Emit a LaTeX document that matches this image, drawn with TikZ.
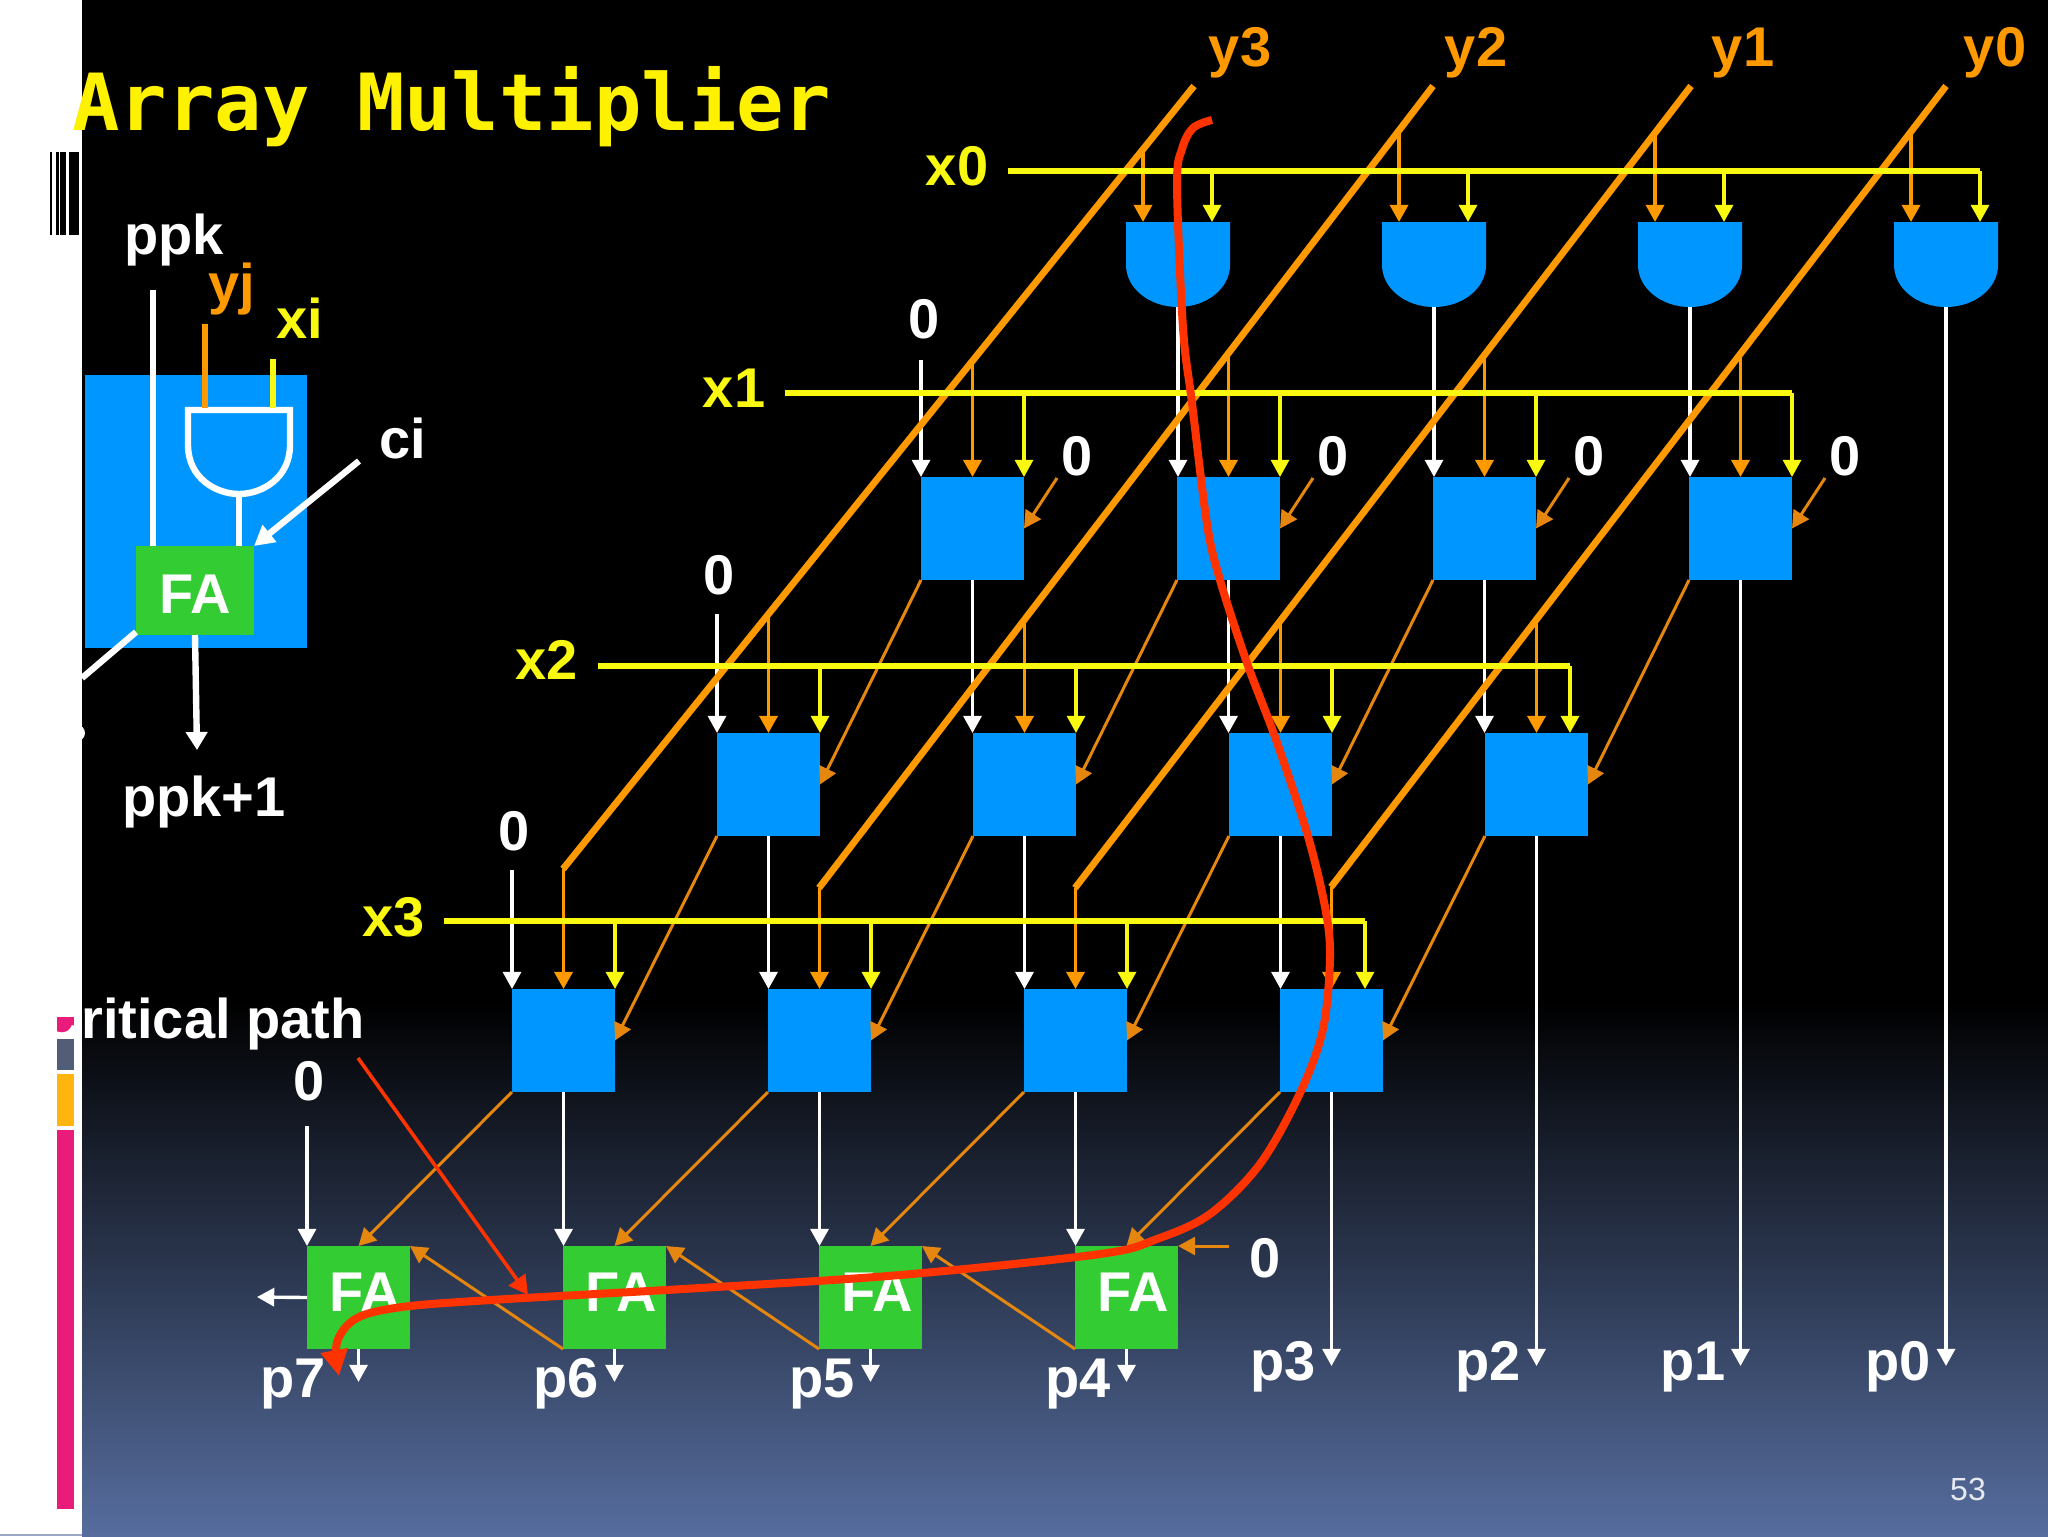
\documentclass[tikz,border=0pt]{standalone}
\usepackage{fontspec}
\setmainfont{Liberation Sans}
\newfontfamily\titlefont{DejaVu Sans Mono}
\usetikzlibrary{arrows.meta,calc}
\definecolor{gateblue}{HTML}{0096FF}
\definecolor{fagreen}{HTML}{33CC33}
\definecolor{wireorange}{HTML}{FF9900}
\definecolor{thinorange}{HTML}{E5860F}
\definecolor{wireyellow}{HTML}{F8F810}
\definecolor{pathred}{HTML}{FF3300}
\definecolor{bgbottom}{HTML}{566D9E}
\definecolor{barpink}{HTML}{E91C7C}
\definecolor{bargrey}{HTML}{525E78}
\definecolor{baramber}{HTML}{FFB50D}
\newcommand{\arrayfa}{\kern7pt\raisebox{5pt}{FA}}
\tikzset{
  lab/.style={anchor=base,inner sep=0pt,text=white,font=\fontsize{28}{30}\selectfont\bfseries},
  ylab/.style={lab,text=wireyellow},
  olab/.style={lab,text=wireorange},
  cell/.style={fill=gateblue,draw=none,minimum size=51.5pt,inner sep=0pt,outer sep=0pt},
  fabox/.style={fill=fagreen,draw=none,minimum size=51.5pt,inner sep=0pt,outer sep=0pt,text=white,font=\fontsize{28}{30}\selectfont\bfseries},
  whitearrow/.style={draw=white,line width=1.7pt,-{Triangle[length=8.6pt,width=9pt]}},
  yellowarrow/.style={draw=wireyellow,line width=1.7pt,-{Triangle[length=8.6pt,width=9pt]}},
  orangearrow/.style={draw=wireorange,line width=1.9pt,-{Triangle[length=8.6pt,width=9pt]}},
  thinarrow/.style={draw=thinorange,line width=1.5pt,-{Triangle[length=8.6pt,width=9pt]}},
  diagwire/.style={draw=wireorange,line width=3.4pt},
  yellowbus/.style={draw=wireyellow,line width=3pt},
  insetwire/.style={line width=3.2pt},
}
\newcommand{\gateshape}[1]{(#1-52,222) -- (#1+52,222) -- (#1+52,265) .. controls (#1+52,288) and (#1+29,307) .. (#1,307) .. controls (#1-29,307) and (#1-52,288) .. (#1-52,265) -- cycle}
\begin{document}
\begin{tikzpicture}[x=0.5pt,y=-0.5pt]
\useasboundingbox (0,0) rectangle (2048,1536);
% background
\fill[white] (0,0) rectangle (82,1536);
\fill[black] (82,0) rectangle (2048,1002);
\shade[top color=black,bottom color=bgbottom] (82,1000) rectangle (2048,1536);
\fill[bgbottom!60!white] (0,1534) rectangle (82,1536);
% left strip decoration
\fill[black] (49.5,152) rectangle (51.5,235);
\fill[black] (56,152) rectangle (58.5,235);
\fill[black] (60,152) rectangle (66,235);
\fill[black] (69,152) rectangle (79,235);
\fill[barpink] (57,1017) rectangle (74,1034);
\fill[bargrey] (57,1039) rectangle (74,1070);
\fill[baramber] (57,1074) rectangle (74,1126);
\fill[barpink] (57,1130) rectangle (74,1509);
\fill[white] (77,733) circle[radius=8];

% title
\node[anchor=base west,inner sep=0pt,text=yellow,font=\fontsize{39.4}{42}\selectfont\titlefont\bfseries] (title) at (72,130) {Array Multiplier};

% ---- inset cell
\fill[gateblue] (85,375) rectangle (307,648);
\coordinate (ppktop) at (153,290);
\coordinate (yjtop) at (205,324);
\coordinate (xitop) at (273,359);
\coordinate (citop) at (359,461);
\coordinate (coend) at (82,678);
\coordinate (ppkend) at (197,750);
\node[fabox,minimum width=59pt,minimum height=44.5pt] (insetfa) at (195,590.5) {\raisebox{0pt}[23pt][0pt]{FA}};
\coordinate (yjin) at (205,408);
\coordinate (xiin) at (273,408);
\coordinate (andout) at (239,497);
\draw[white,insetwire] (188,410) -- (290,410) -- (290,445) .. controls (290,478) and (262,494) .. (239,494) .. controls (216,494) and (188,478) .. (188,445) -- cycle;
\draw[white,insetwire] (ppktop) -- (ppktop |- insetfa.north);
\draw[wireorange,insetwire] (yjtop) -- (yjin);
\draw[wireyellow,insetwire] (xitop) -- (xiin);
\draw[white,insetwire] (andout) -- (andout |- insetfa.north);
\draw[white,insetwire,-{Triangle[length=10pt,width=10.5pt]}] (citop) -- (insetfa.north east);
\draw[white,insetwire] (insetfa.south west) ++(0,-3) -- (coend);
\draw[white,insetwire,-{Triangle[length=9pt,width=10.5pt]}] (insetfa.south) -- (ppkend);
\node[lab] (tppk) at (174,254) {ppk};
\node[olab] (tyj) at (232,303) {yj};
\node[ylab] (txi) at (300,338) {xi};
\node[lab] (tci) at (403,458) {ci};
\node[lab] (tppkn) at (204,816) {ppk+1};
\node[lab,anchor=base east] (tcrit) at (365,1038) {Critical path};

% ---- free ends for the array
\coordinate (d3a) at (1194,86); \coordinate (d3b) at (563,869);
\coordinate (d2a) at (1433,86); \coordinate (d2b) at (819,888);
\coordinate (d1a) at (1691,86); \coordinate (d1b) at (1075,888);
\coordinate (d0a) at (1946,86); \coordinate (d0b) at (1331,887);

% ---- nodes
\foreach \n/\x in {g0/1178,g1/1434,g2/1690,g3/1946}{
  \fill[gateblue] \gateshape{\x};
  \coordinate (\n) at (\x,307);
}
\foreach \n/\x in {a0/972.5,a1/1228.5,a2/1484.5,a3/1740.5}{
  \node[cell] (\n) at (\x,528.5) {};
}
\foreach \n/\x in {b0/768.5,b1/1024.5,b2/1280.5,b3/1536.5}{
  \node[cell] (\n) at (\x,784.5) {};
}
\foreach \n/\x in {c0/563.5,c1/819.5,c2/1075.5,c3/1331.5}{
  \node[cell] (\n) at (\x,1040.5) {};
}
\foreach \n/\x in {f0/358.5,f1/614.5,f2/870.5,f3/1126.5}{
  \node[fabox] (\n) at (\x,1297.5) {\arrayfa};
}

% ---- white verticals
\draw[whitearrow] (g0) -- (g0 |- a1.north);
\draw[whitearrow] (g1) -- (g1 |- a2.north);
\draw[whitearrow] (g2) -- (g2 |- a3.north);
\draw[whitearrow] (g3) -- (1946,1366);
\draw[whitearrow] (a0.south) -- (a0.south |- b1.north);
\draw[whitearrow] (a1.south) -- (a1.south |- b2.north);
\draw[whitearrow] (a2.south) -- (a2.south |- b3.north);
\draw[whitearrow] (a3.south) -- (1740.5,1366);
\draw[whitearrow] (b0.south) -- (b0.south |- c1.north);
\draw[whitearrow] (b1.south) -- (b1.south |- c2.north);
\draw[whitearrow] (b2.south) -- (b2.south |- c3.north);
\draw[whitearrow] (b3.south) -- (1536.5,1366);
\draw[whitearrow] (c0.south) -- (c0.south |- f1.north);
\draw[whitearrow] (c1.south) -- (c1.south |- f2.north);
\draw[whitearrow] (c2.south) -- (c2.south |- f3.north);
\draw[whitearrow] (c3.south) -- (1331.5,1366);
\draw[whitearrow] (921,360) -- (a0.north west);
\draw[whitearrow] (717,614) -- (b0.north west);
\draw[whitearrow] (512,870) -- (c0.north west);
\draw[whitearrow] (307,1126) -- (f0.north west);
\foreach \n in {f0,f1,f2,f3}{
  \draw[whitearrow] (\n.south) -- ++(0,33);
}
\draw[whitearrow] (f0.west) -- (257,1297);

% ---- thin orange carries and sums
\foreach \a/\b in {a0/b0,a1/b1,a2/b2,a3/b3,b0/c0,b1/c1,b2/c2,b3/c3}{
  \draw[thinarrow] (\a.south west) -- (\b.east);
}
\foreach \a/\b in {c0/f0,c1/f1,c2/f2,c3/f3}{
  \draw[thinarrow] (\a.south west) -- (\b.north);
}
\foreach \a/\b in {f1/f0,f2/f1,f3/f2}{
  \draw[thinarrow] (\a.south west) -- (\b.north east);
}
\draw[thinarrow] (1229,1246) -- (f3.north east);
\foreach \n in {a0,a1,a2,a3}{
  \draw[thinarrow] ($(\n.north east)+(33,1)$) -- (\n.east);
}

% ---- orange arrows from the diagonals
\foreach \x/\y/\t in {1143/150/222,1399/132/222,1655/133/222,1911/132/222}{
  \draw[orangearrow] (\x,\y) -- (\x,\t);
}
\foreach \n/\y in {a0/361,a1/352,a2/354,a3/353,b0/615,b1/619,b2/620,b3/618,c0/869,c1/888,c2/888,c3/887}{
  \draw[orangearrow] (\n.north |- 0,\y) -- (\n.north);
}
% ---- diagonals
\draw[diagwire] (d3a) -- (d3b);
\draw[diagwire] (d2a) -- (d2b);
\draw[diagwire] (d1a) -- (d1b);
\draw[diagwire] (d0a) -- (d0b);

% ---- yellow
\foreach \x in {1212,1468,1724,1980}{
  \draw[yellowarrow] (\x,171) -- (\x,222);
}
\foreach \n in {a0,a1,a2,a3}{
  \draw[yellowarrow] (\n.north east |- 0,393) -- (\n.north east);
}
\foreach \n in {b0,b1,b2}{
  \draw[yellowarrow] (\n.north east |- 0,666) -- (\n.north east);
}
\draw[yellowarrow] (1570,666) -- (1570,733);
\foreach \n in {c0,c1,c2}{
  \draw[yellowarrow] (\n.north east |- 0,921) -- (\n.north east);
}
\draw[yellowarrow] (1365,921) -- (1365,989);
\draw[yellowbus] (1008,171) -- (1980,171);
\draw[yellowbus] (785,393) -- (1792,393);
\draw[yellowbus] (598,666) -- (1570,666);
\draw[yellowbus] (444,921) -- (1365,921);

% ---- labels
\node[olab] (ty3) at (1240,67) {y3};
\node[olab] (ty2) at (1476,67) {y2};
\node[olab] (ty1) at (1743,67) {y1};
\node[olab] (ty0) at (1995,67) {y0};
\node[ylab] (tx0) at (957,185) {x0};
\node[ylab] (tx1) at (734,407) {x1};
\node[ylab] (tx2) at (547,679) {x2};
\node[ylab] (tx3) at (394,936) {x3};
\foreach \n/\x/\y in {z0/924/338,z1/1077/475,z2/1333/475,z3/1589/475,z4/1845/475,z5/719/594,z6/514/850,z7/309/1100,z8/1265/1277}{
  \node[lab] (\n) at (\x,\y) {0};
}
\foreach \n/\t/\x/\y in {p7/p7/293/1397,p6/p6/566/1397,p5/p5/822/1397,p4/p4/1078/1397,p3/p3/1283/1380,p2/p2/1488/1380,p1/p1/1693/1380,p0/p0/1898/1380}{
  \node[lab] (\n) at (\x,\y) {\t};
}
\node[anchor=base,inner sep=0pt,text=white!85!bgbottom,font=\fontsize{16}{18}\selectfont] (pagenum) at (1968,1500) {53};

% ---- critical path
\draw[pathred,line width=1.8pt,-{Triangle[length=9.5pt,width=10pt]}] (358,1058) -- (528,1295);
\draw[pathred,line width=4pt,-{Triangle[length=13pt,width=13pt]}]
  plot[smooth,tension=0.55] coordinates {(1212,120) (1193,128) (1182,149) (1177,185) (1183,328) (1192,403) (1207,524) (1220,580) (1247,663) (1275,737) (1307,833) (1325,907) (1330,957) (1323,1029) (1300,1093) (1260,1164) (1210,1214) (1157,1239) (1100,1254) (900,1275) (700,1288) (491,1300) (402,1307) (357,1318) (337,1342) (339,1376)};
\end{tikzpicture}
\end{document}
